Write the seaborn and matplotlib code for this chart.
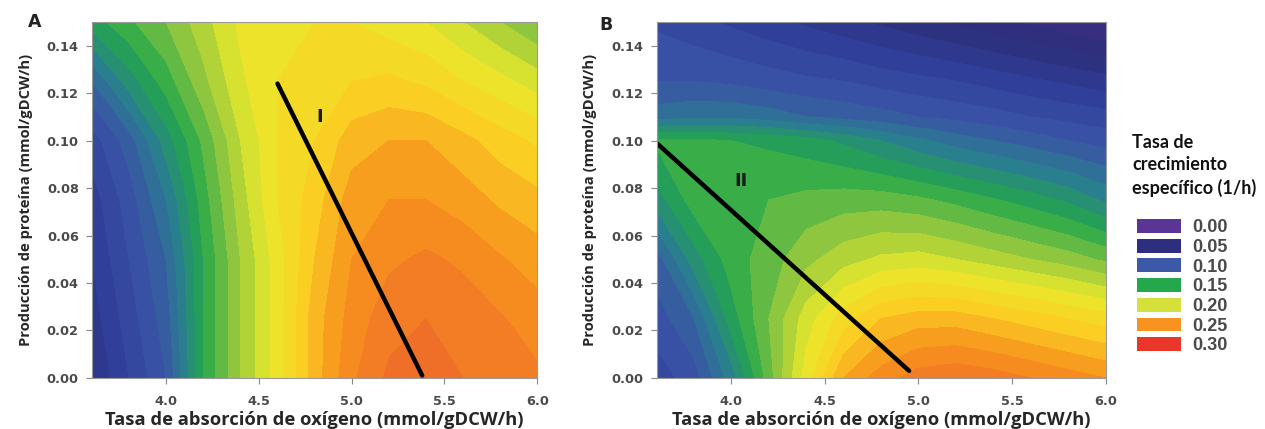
import numpy as np
import matplotlib
matplotlib.use("Agg")
import matplotlib.pyplot as plt
import seaborn as sns
from matplotlib.patches import Patch

# --- data ---
oxygen = [3.6, 3.8, 4.0, 4.2, 4.4, 4.6, 4.8, 5.0, 5.2, 5.4, 5.6, 5.8, 6.0]

protein_a = [0.0, 0.025, 0.05, 0.075, 0.10, 0.125, 0.15]
growth_a = [
    [0.060, 0.080, 0.100, 0.150, 0.180, 0.205, 0.235, 0.258, 0.272, 0.274, 0.270, 0.266, 0.262],
    [0.065, 0.085, 0.105, 0.150, 0.180, 0.205, 0.235, 0.254, 0.266, 0.270, 0.266, 0.261, 0.255],
    [0.070, 0.090, 0.110, 0.150, 0.180, 0.205, 0.230, 0.250, 0.258, 0.262, 0.258, 0.251, 0.245],
    [0.075, 0.095, 0.120, 0.155, 0.185, 0.210, 0.225, 0.245, 0.250, 0.250, 0.245, 0.238, 0.233],
    [0.085, 0.105, 0.135, 0.162, 0.190, 0.210, 0.220, 0.235, 0.240, 0.240, 0.233, 0.225, 0.218],
    [0.110, 0.135, 0.155, 0.177, 0.198, 0.210, 0.215, 0.220, 0.222, 0.218, 0.210, 0.203, 0.195],
    [0.145, 0.158, 0.170, 0.186, 0.202, 0.210, 0.210, 0.210, 0.205, 0.200, 0.190, 0.180, 0.170],
]

protein_b = [0.0, 0.025, 0.05, 0.075, 0.10, 0.11, 0.125, 0.15]
growth_b = [
    [0.085, 0.095, 0.125, 0.165, 0.205, 0.240, 0.255, 0.265, 0.268, 0.265, 0.260, 0.255, 0.250],
    [0.095, 0.110, 0.145, 0.170, 0.195, 0.215, 0.230, 0.235, 0.235, 0.230, 0.225, 0.220, 0.215],
    [0.105, 0.135, 0.155, 0.165, 0.177, 0.186, 0.192, 0.194, 0.190, 0.185, 0.180, 0.175, 0.168],
    [0.135, 0.155, 0.158, 0.160, 0.163, 0.165, 0.165, 0.162, 0.157, 0.151, 0.145, 0.138, 0.128],
    [0.152, 0.152, 0.150, 0.148, 0.144, 0.138, 0.130, 0.122, 0.115, 0.110, 0.105, 0.100, 0.096],
    [0.115, 0.118, 0.118, 0.115, 0.110, 0.107, 0.104, 0.100, 0.097, 0.094, 0.090, 0.087, 0.084],
    [0.100, 0.100, 0.098, 0.095, 0.092, 0.090, 0.086, 0.083, 0.080, 0.076, 0.072, 0.068, 0.064],
    [0.088, 0.083, 0.078, 0.073, 0.068, 0.063, 0.058, 0.053, 0.048, 0.043, 0.038, 0.033, 0.028],
]

line_a_x = [4.6, 5.38]
line_a_y = [0.124, 0.001]
line_b_x = [3.6, 4.95]
line_b_y = [0.099, 0.003]

legend_values = ["0.00", "0.05", "0.10", "0.15", "0.20", "0.25", "0.30"]
legend_colors = ["#5b3596", "#2d2e7e", "#3c58a8", "#25a84b", "#d6e03a", "#f6941f", "#e8362b"]

# --- style ---
sns.set_theme(style="white")
plt.rcParams["font.family"] = ["DejaVu Sans"]

cmap = sns.blend_palette(
    ["#5b2c8f", "#3f2e85", "#2b2f7b", "#30409a", "#3a55a6", "#2a7f8e", "#22a64b",
     "#8ec63f", "#e8e72b", "#fbd024", "#f7941d", "#f07028", "#e8372a"],
    as_cmap=True,
)
levels = np.arange(0.0, 0.305, 0.01)

fig = plt.figure(figsize=(12.65, 4.29), dpi=100)
ax_a = fig.add_axes([0.0727, 0.119, 0.352, 0.830])
ax_b = fig.add_axes([0.519, 0.119, 0.355, 0.830])

panels = [
    (ax_a, protein_a, growth_a, line_a_x, line_a_y, "I", (4.83, 0.110), "A", (-0.144, 0.986)),
    (ax_b, protein_b, growth_b, line_b_x, line_b_y, "II", (4.05, 0.083), "B", (-0.127, 0.978)),
]

tick_color = "#4a4a4a"
xlabel_font = {"family": ["Open Sans", "DejaVu Sans"], "weight": "bold", "size": 13.2}
ylabel_font = {"family": ["Open Sans", "DejaVu Sans"], "weight": "bold", "size": 10.6}

for ax, prot, grid, lx, ly, tag, tag_xy, letter, letter_xy in panels:
    X, Y = np.meshgrid(oxygen, prot)
    Z = np.clip(np.array(grid), 0, 0.30)
    ax.contourf(X, Y, Z, levels=levels, cmap=cmap, vmin=0, vmax=0.30, extend="both")
    sns.lineplot(x=lx, y=ly, ax=ax, color="black", linewidth=3.2, solid_capstyle="round")
    ax.text(tag_xy[0], tag_xy[1], tag, fontsize=13, fontweight="bold", color="#1a1a1a",
            ha="center", va="center")
    ax.set_xlim(3.6, 6.0)
    ax.set_ylim(0.0, 0.15)
    ax.set_xticks([4.0, 4.5, 5.0, 5.5, 6.0])
    ax.set_yticks([0.00, 0.02, 0.04, 0.06, 0.08, 0.10, 0.12, 0.14])
    ax.xaxis.set_major_formatter(matplotlib.ticker.FormatStrFormatter("%.1f"))
    ax.yaxis.set_major_formatter(matplotlib.ticker.FormatStrFormatter("%.2f"))
    ax.tick_params(axis="both", which="major", length=4, width=0.8, color="#888888",
                   labelsize=9.3, labelcolor=tick_color, direction="out",
                   bottom=True, left=True)
    ax.tick_params(axis="x", pad=8.5)
    ax.tick_params(axis="y", pad=5.5)
    for lbl in ax.get_xticklabels() + ax.get_yticklabels():
        lbl.set_fontweight("bold")
    for s in ax.spines.values():
        s.set_color("#9a9a9a")
        s.set_linewidth(0.8)
    ax.set_xlabel("Tasa de absorción de oxígeno (mmol/gDCW/h)", fontdict=xlabel_font, labelpad=2)
    ax.set_ylabel("Producción de proteína (mmol/gDCW/h)", fontdict=ylabel_font, labelpad=10)
    ax.text(letter_xy[0], letter_xy[1], letter, transform=ax.transAxes, fontsize=12.5,
            fontweight="bold", color="#222222", ha="left", va="baseline")

fig.text(1132 / 1265, 1 - 134 / 429, "Tasa de\ncrecimiento\nespecífico (1/h)",
         family=["Lato", "DejaVu Sans"], fontweight="bold", fontsize=13,
         linespacing=1.37, ha="left", va="top", color="#111111")

handles = [Patch(facecolor=c, edgecolor="none") for c in legend_colors]
leg = fig.legend(
    handles, legend_values,
    loc="upper left", bbox_to_anchor=(1137 / 1265, 1 - 219 / 429),
    frameon=False, handlelength=2.45, handleheight=0.8,
    labelspacing=0.14, handletextpad=0.6, borderaxespad=0, borderpad=0,
    prop={"family": ["Liberation Sans"], "weight": "bold", "size": 13},
)
for t in leg.get_texts():
    t.set_color(tick_color)

fig.savefig("out.png", dpi=100)
